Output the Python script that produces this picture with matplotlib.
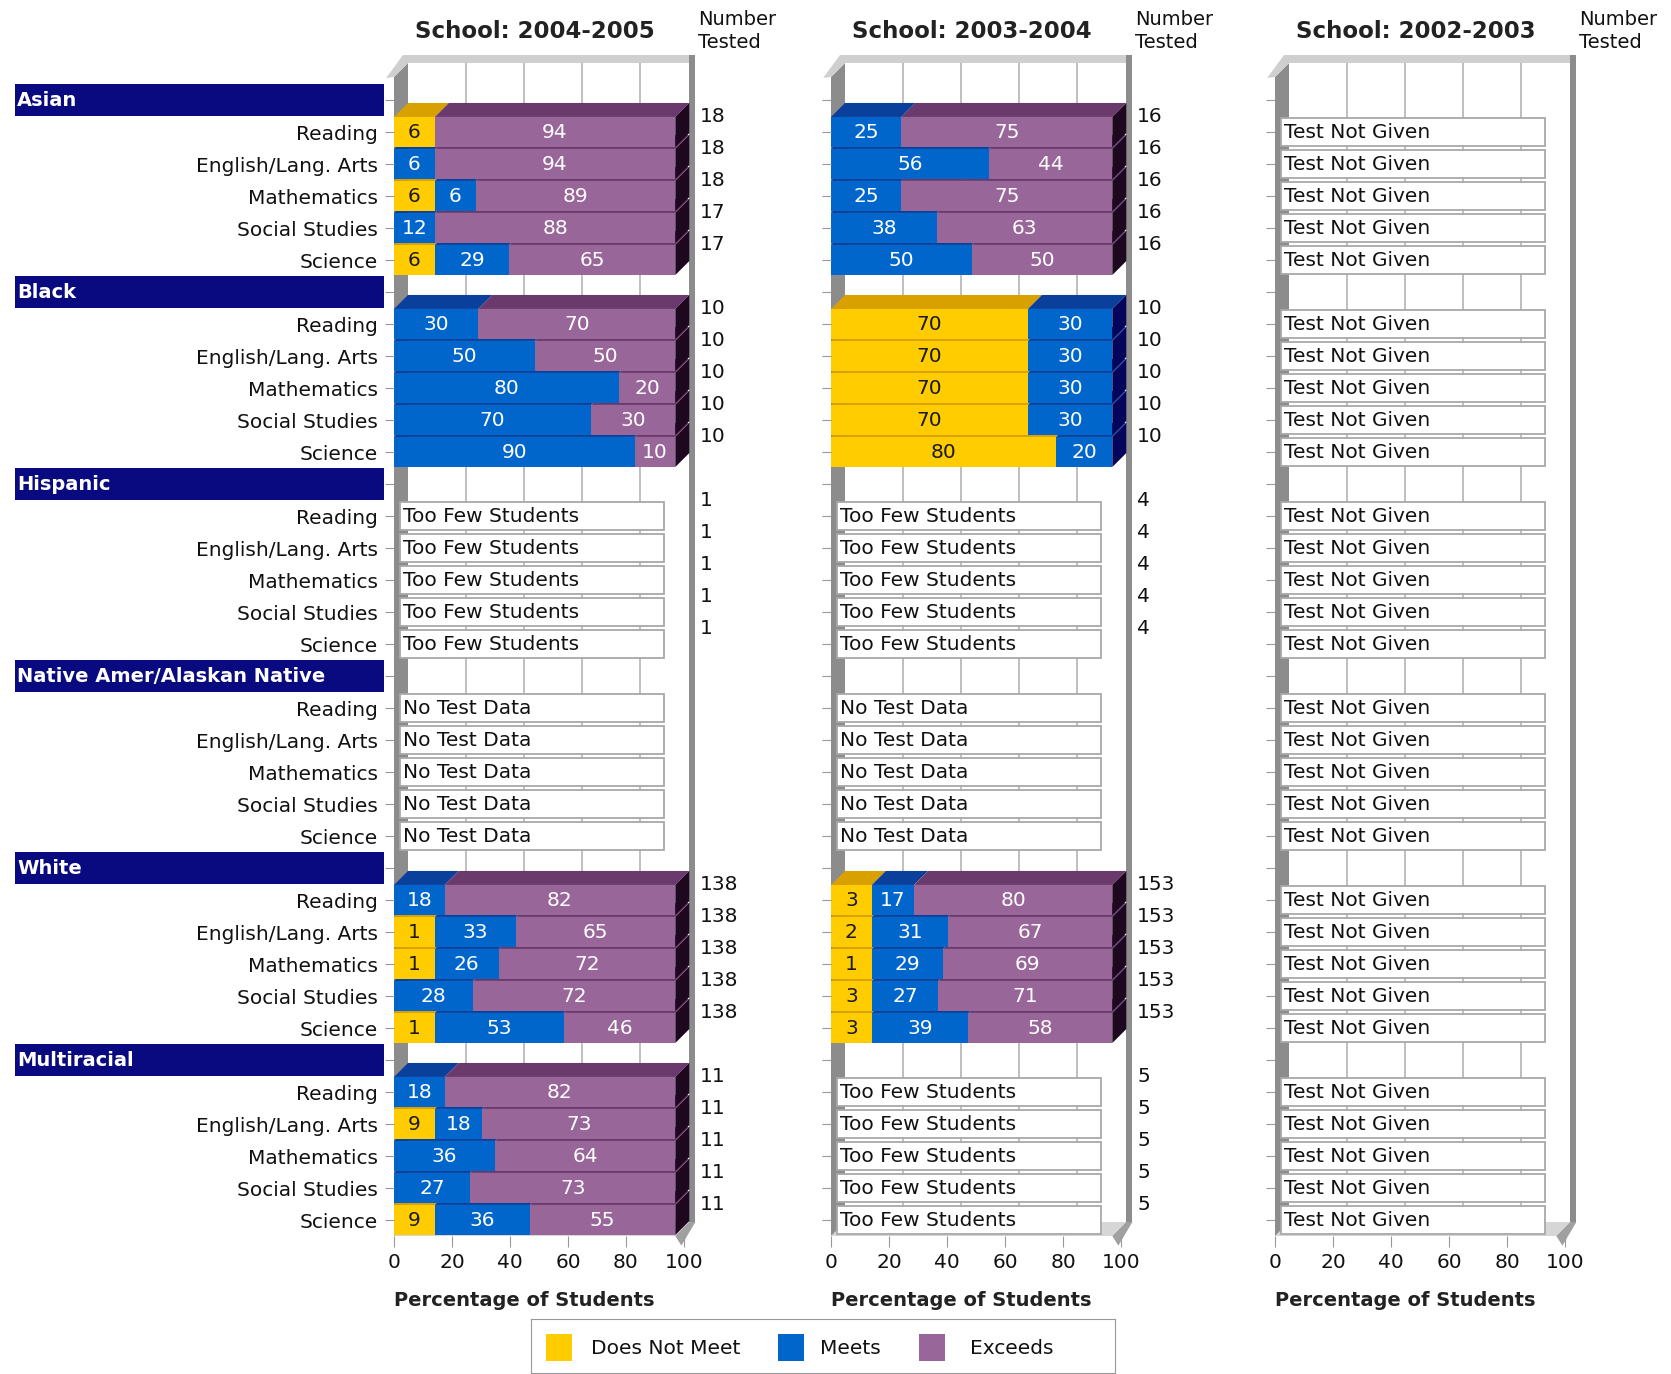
import matplotlib
matplotlib.use('Agg')
import matplotlib.pyplot as plt
from matplotlib.patches import Rectangle, Polygon

# categories
groups = ['Asian', 'Black', 'Hispanic', 'Native Amer/Alaskan Native', 'White', 'Multiracial']
subjects = ['Reading', 'English/Lang. Arts', 'Mathematics', 'Social Studies', 'Science']
years = ['2004-2005', '2003-2004', '2002-2003']
levels = ['Does Not Meet', 'Meets', 'Exceeds']

# percentages per subject: (does not meet, meets, exceeds)
y0405_asian = [(6, 0, 94), (0, 6, 94), (6, 6, 89), (0, 12, 88), (6, 29, 65)]
y0405_black = [(0, 30, 70), (0, 50, 50), (0, 80, 20), (0, 70, 30), (0, 90, 10)]
y0405_white = [(0, 18, 82), (1, 33, 65), (1, 26, 72), (0, 28, 72), (1, 53, 46)]
y0405_multi = [(0, 18, 82), (9, 18, 73), (0, 36, 64), (0, 27, 73), (9, 36, 55)]

y0304_asian = [(0, 25, 75), (0, 56, 44), (0, 25, 75), (0, 38, 63), (0, 50, 50)]
y0304_black = [(70, 30, 0), (70, 30, 0), (70, 30, 0), (70, 30, 0), (80, 20, 0)]
y0304_white = [(3, 17, 80), (2, 31, 67), (1, 29, 69), (3, 27, 71), (3, 39, 58)]

# number tested
n0405 = {'Asian': [18, 18, 18, 17, 17], 'Black': [10] * 5, 'Hispanic': [1] * 5,
         'White': [138] * 5, 'Multiracial': [11] * 5}
n0304 = {'Asian': [16] * 5, 'Black': [10] * 5, 'Hispanic': [4] * 5,
         'White': [153] * 5, 'Multiracial': [5] * 5}

few = 'Too Few Students'
nodata = 'No Test Data'
notgiven = 'Test Not Given'
data = [
    {'Asian': y0405_asian, 'Black': y0405_black, 'Hispanic': few,
     'Native Amer/Alaskan Native': nodata, 'White': y0405_white, 'Multiracial': y0405_multi},
    {'Asian': y0304_asian, 'Black': y0304_black, 'Hispanic': few,
     'Native Amer/Alaskan Native': nodata, 'White': y0304_white, 'Multiracial': few},
    {g: notgiven for g in groups},
]
tested = [n0405, n0304, {}]

front_cols = ['#ffcc00', '#0066cc', '#996699']
top_cols = ['#d9a100', '#0a3f9c', '#6b3a6d']
side_cols = ['#6e5200', '#05055c', '#1e0820']
text_cols = ['#1a1a1a', 'white', 'white']

W, H = 1671, 1374
fig = plt.figure(figsize=(W / 100, H / 100), dpi=100)
plt.rcParams['font.family'] = 'DejaVu Sans'

PX = 2.9          # pixels per percentage unit
ROW = 32          # pixels per row
ROW0 = 100        # pixel y of row 0
TOP, BOT = 77, 1236
DEPTH = 14
dx, dy = DEPTH / PX, DEPTH / ROW
FULL = 97
BAR_H = 0.94
ytop, ybot = (TOP - ROW0) / ROW, (BOT - ROW0) / ROW
x0s = [394, 831, 1275]


def fx(px):
    return px / W


def fy(py):
    return 1 - py / H


def shown_widths(vals, minw=14.5):
    # small segments are widened to a minimum, the others share the rest
    small = sum(minw for v in vals if 0 < v < minw)
    big = sum(v for v in vals if v >= minw)
    k = (100 - small) / big
    return [0 if v == 0 else (minw if v < minw else v * k) * FULL / 100 for v in vals]


def draw_bar(ax, k, vals):
    w = shown_widths(vals)
    y0 = k - BAR_H / 2
    segs = []
    left = 0
    for i, v in enumerate(vals):
        if v == 0:
            continue
        segs.append((i, v, left, w[i]))
        left += w[i]
    for i, v, l, ww in segs:
        ax.add_patch(Polygon([(l, y0), (l + ww, y0), (l + ww + dx, y0 - dy), (l + dx, y0 - dy)],
                             fc=top_cols[i], lw=0, clip_on=False))
    i, v, l, ww = segs[-1]
    xr = l + ww
    ax.add_patch(Polygon([(xr, y0), (xr, y0 + BAR_H), (xr + dx, y0 + BAR_H - dy), (xr + dx, y0 - dy)],
                         fc=side_cols[i], lw=0, clip_on=False))
    for i, v, l, ww in segs:
        ax.add_patch(Rectangle((l, y0), ww, BAR_H, fc=front_cols[i], lw=0, clip_on=False))
        ax.text(l + ww / 2, k + 0.03, str(v), ha='center', va='center', fontsize=14.5,
                color=text_cols[i], clip_on=False)


nrows = len(groups) * (len(subjects) + 1)
ylabels = []
for g in groups:
    ylabels += [''] + subjects

for p, year in enumerate(years):
    x0 = x0s[p]
    ax = fig.add_axes([fx(x0), fy(BOT), 100 * PX / W, (BOT - TOP) / H])
    ax.set_xlim(0, 100)
    ax.set_ylim(ybot, ytop)
    ax.patch.set_visible(False)
    for s in ax.spines.values():
        s.set_visible(False)

    # 3d frame
    bt, bb = ytop - dy, ybot - dy
    ax.add_patch(Rectangle((dx, bt), FULL, bb - bt, fc='white', lw=0, clip_on=False, zorder=0))
    for t in [20, 40, 60, 80]:
        ax.plot([t + dx, t + dx], [bt, bb], color='#b4b4b4', lw=1.2, clip_on=False, zorder=0.5)
    ax.add_patch(Polygon([(0, ybot), (FULL, ybot), (FULL + dx, bb), (dx, bb)],
                         fc='#d6d6d6', lw=0, clip_on=False, zorder=0.6))
    ax.add_patch(Polygon([(FULL, ybot), (FULL + dx, bb), (FULL + dx + 2.1, bb), (FULL + 2.1, ybot + 0.3)],
                         fc='#a0a0a0', lw=0, clip_on=False, zorder=0.6))
    ax.add_patch(Polygon([(0, ybot), (0, ytop), (dx, bt), (dx, bb)],
                         fc='#8c8c8c', lw=0, clip_on=False, zorder=0.7))
    ax.add_patch(Polygon([(-2.7, ytop + 0.03), (3.1, bt - 0.25), (dx, bt), (0, ytop)],
                         fc='#cfcfcf', lw=0, clip_on=False, zorder=0.7))
    ax.add_patch(Rectangle((3.1, bt - 0.25), FULL + dx - 1, 0.25, fc='#cfcfcf', lw=0,
                           clip_on=False, zorder=0.7))
    ax.add_patch(Rectangle((FULL + dx, bt - 0.25), 2.1, bb - bt + 0.25, fc='#8c8c8c', lw=0,
                           clip_on=False, zorder=0.7))

    # bars, drawn from the bottom row up
    for gi in reversed(range(len(groups))):
        g = groups[gi]
        d = data[p][g]
        for si in reversed(range(len(subjects))):
            k = gi * 6 + 1 + si
            if isinstance(d, str):
                ax.add_patch(Rectangle((2, k - 0.44), 91, 0.88, fc='white', ec='#a8a8a8', lw=1.3,
                                       clip_on=False, zorder=2))
                ax.text(3.2, k + 0.02, d, ha='left', va='center', fontsize=14.5, color='#111111',
                        zorder=3, clip_on=False)
            else:
                draw_bar(ax, k, d[si])
            n = tested[p].get(g)
            if n:
                ax.text(105.6, k - 0.47, str(n[si]), ha='left', va='center', fontsize=14.5,
                        color='#111111', clip_on=False)

    ax.set_yticks(range(nrows))
    if p == 0:
        ax.set_yticklabels(ylabels, fontsize=14.5, color='#111111')
    else:
        ax.set_yticklabels([])
    ax.tick_params(axis='y', length=6.5, color='#999999', pad=5)
    ax.set_xticks(range(0, 101, 20))
    ax.set_xticklabels([str(t) for t in range(0, 101, 20)], fontsize=14.5, color='#111111')
    ax.tick_params(axis='x', length=8, color='#999999', pad=4)

    fig.text(fx(x0 + 141), fy(32), 'School: ' + year, ha='center', va='center',
             fontsize=16.5, fontweight='bold', color='#222222')
    fig.text(fx(x0 + 304), fy(31), 'Number\nTested', ha='left', va='center',
             fontsize=14, color='#111111', linespacing=1.25)
    fig.text(fx(x0 + 130), fy(1300), 'Percentage of Students', ha='center', va='center',
             fontsize=14, fontweight='bold', color='#222222')

    if p == 0:
        for gi, g in enumerate(groups):
            ax.add_patch(Rectangle((-130.7, gi * 6 - 0.5), 127.3, 1.0, fc='#0a0a80', lw=0,
                                   clip_on=False))
            ax.text(-130, gi * 6 + 0.02, g, ha='left', va='center', fontsize=14,
                    fontweight='bold', color='white', clip_on=False)

# legend
lax = fig.add_axes([fx(531), fy(1373), (1115 - 531) / W, (1373 - 1319) / H])
lax.set_xlim(531, 1115)
lax.set_ylim(1373, 1319)
lax.set_xticks([])
lax.set_yticks([])
for s in lax.spines.values():
    s.set_color('#999999')
for i, (sx, tx) in enumerate([(546, 591), (778, 820), (919, 970)]):
    lax.add_patch(Rectangle((sx, 1334), 26, 27, fc=front_cols[i], lw=0))
    lax.text(tx, 1348, levels[i], ha='left', va='center', fontsize=14.5, color='#111111')

fig.savefig('out.png', dpi=100)
